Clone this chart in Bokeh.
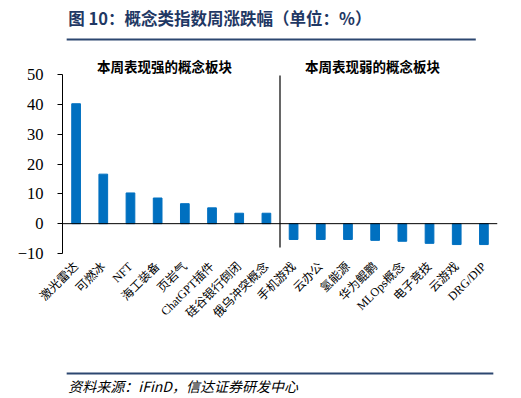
import math
from bokeh.plotting import figure
from bokeh.layouts import column
from bokeh.models import Label, Span, FactorRange, Range1d, ColumnDataSource, FixedTicker
from bokeh.embed import file_html
from bokeh.resources import INLINE

strong_names = ["激光雷达", "可燃冰", "NFT", "海工装备", "页岩气", "ChatGPT插件", "硅谷银行倒闭", "俄乌冲突概念"]
strong_vals = [40.2, 16.6, 10.3, 8.6, 6.7, 5.3, 3.5, 3.5]
weak_names = ["手机游戏", "云办公", "氢能源", "华为鲲鹏", "MLOps概念", "电子竞技", "云游戏", "DRG/DIP"]
weak_vals = [-5.3, -5.3, -5.3, -5.6, -5.9, -6.6, -7.0, -7.0]
y_ticks = [-10, 0, 10, 20, 30, 40, 50]

cats = strong_names + weak_names
vals = strong_vals + weak_vals

W = 521
H_HEAD, H_MAIN, H_FOOT = 45, 300, 53
cjk = "Noto Sans CJK SC"
navy_text = "#1F3864"
navy_line = "#2C4770"


def blank(h, y0):
    f = figure(width=W, height=h, x_range=Range1d(0, W), y_range=Range1d(y0 + h, y0),
               output_backend="svg", toolbar_location=None, x_axis_type=None, y_axis_type=None,
               min_border=0, min_border_left=0, min_border_right=0, min_border_top=0, min_border_bottom=0)
    f.outline_line_color = None
    f.xgrid.visible = False
    f.ygrid.visible = False
    return f


# header
head = blank(H_HEAD, 0)
head.add_layout(Label(x=7, y=17, text="图 10：概念类指数周涨跌幅（单位：%）", text_align="left",
                      text_baseline="middle", text_font=cjk, text_font_size="16.5px",
                      text_font_style="bold", text_color=navy_text))
head.segment(x0=[5], y0=[39], x1=[495], y1=[39], line_color=navy_line, line_width=2.2)

# main chart
FL, FR, FB = 62, 497, 253 - H_HEAD  # frame edges inside main figure
px_per_unit = 179 / 60.0
y_top = 50 + (74 - H_HEAD) / px_per_unit
p = figure(width=W, height=H_MAIN, x_range=FactorRange(*cats), y_range=Range1d(-10, y_top),
           output_backend="svg", toolbar_location=None,
           min_border_left=FL, min_border_right=W - FR, min_border_top=0, min_border_bottom=H_MAIN - FB)
p.outline_line_color = None
p.xgrid.visible = False
p.ygrid.visible = False

src = ColumnDataSource(dict(x=cats, top=vals))
p.vbar(x="x", top="top", width=0.32, source=src, fill_color="#0070C0", line_color="#0070C0")

p.add_layout(Span(location=0, dimension="width", line_color="black", line_width=1))
nsplit = len(strong_names)
p.segment(x0=[nsplit], y0=[-8], x1=[nsplit], y1=[49.7], line_color="black", line_width=1.2)

p.yaxis.bounds = (-10, 50)
p.yaxis.ticker = FixedTicker(ticks=y_ticks)
p.yaxis.major_label_text_font = "Liberation Serif"
p.yaxis.major_label_text_font_size = "16.5px"
p.yaxis.major_label_text_color = "black"
p.yaxis.axis_line_color = "black"
p.yaxis.major_tick_line_color = "black"
p.yaxis.major_tick_out = 5
p.yaxis.major_tick_in = 0
p.yaxis.minor_tick_line_color = None
p.yaxis.major_label_standoff = 14

p.xaxis.axis_line_color = None
p.xaxis.major_tick_line_color = None
p.xaxis.minor_tick_line_color = None
p.xaxis.major_label_orientation = math.pi / 4
p.xaxis.major_label_text_font = "Liberation Serif, Noto Sans CJK SC"
p.xaxis.major_label_text_font_size = "12px"
p.xaxis.major_label_text_color = "black"
p.xaxis.major_label_standoff = 5

p.add_layout(Label(x=3.75, y=53, text="本周表现强的概念板块", text_align="center",
                   text_baseline="middle", text_font=cjk, text_font_size="13.5px",
                   text_font_style="bold", text_color="black"))
p.add_layout(Label(x=11.4, y=53, text="本周表现弱的概念板块", text_align="center",
                   text_baseline="middle", text_font=cjk, text_font_size="13.5px",
                   text_font_style="bold", text_color="black"))

# footer
y_foot = H_HEAD + H_MAIN
foot = blank(H_FOOT, y_foot)
foot.segment(x0=[5], y0=[373], x1=[516], y1=[373], line_color=navy_line, line_width=2.2)
foot.add_layout(Label(x=7, y=385, text="资料来源：iFinD，信达证券研发中心", text_align="left",
                      text_baseline="middle", text_font=cjk, text_font_size="14px",
                      text_font_style="italic", text_color="black"))

layout = column(head, p, foot, spacing=0)
open("out.html", "w").write(file_html(layout, INLINE))
